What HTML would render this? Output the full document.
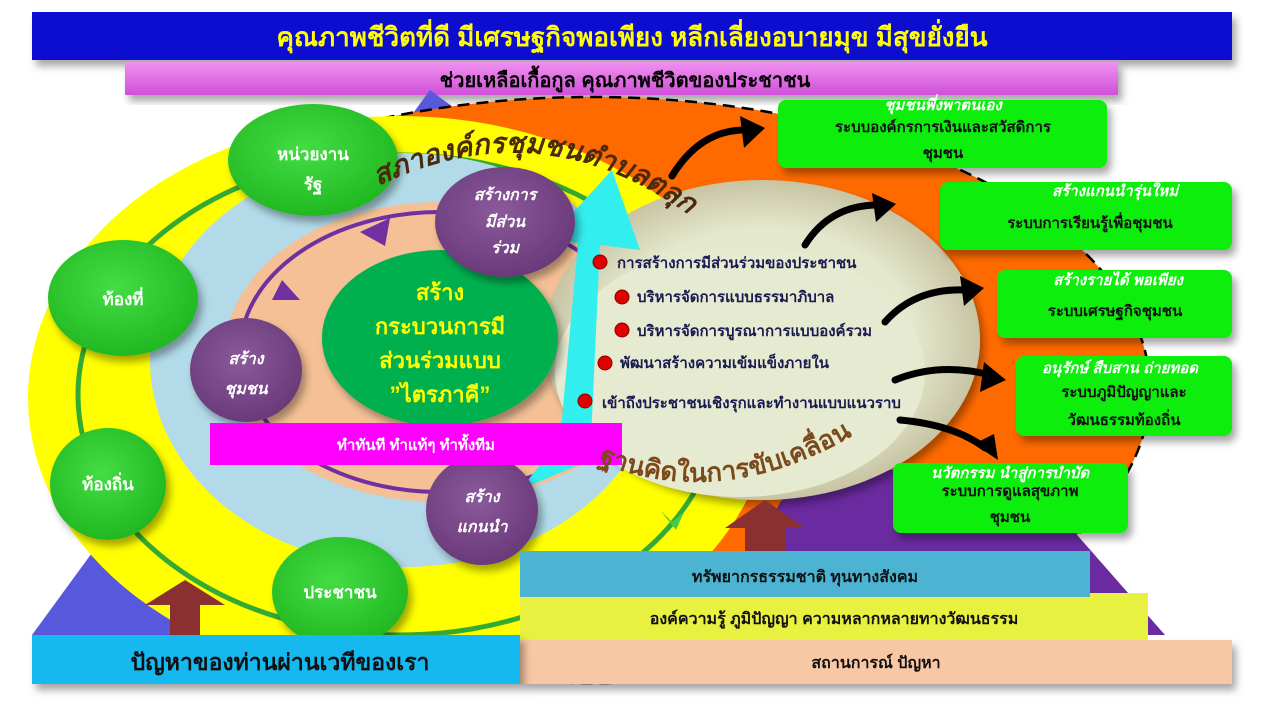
<!DOCTYPE html>
<html><head><meta charset="utf-8"><style>
html,body{margin:0;padding:0;background:#fff;width:1280px;height:720px;overflow:hidden}
svg{display:block}
text{font-family:"Liberation Sans","Noto Sans CJK SC",sans-serif;font-weight:bold}
</style></head><body>
<svg width="1280" height="720" viewBox="0 0 1280 720" xmlns="http://www.w3.org/2000/svg">
<defs>
<linearGradient id="pink" x1="0" y1="0" x2="0" y2="1"><stop offset="0" stop-color="#f090f0"/><stop offset="1" stop-color="#d050d8"/></linearGradient>
<radialGradient id="gc" cx="0.45" cy="0.4" r="0.6"><stop offset="0" stop-color="#44dd44"/><stop offset="1" stop-color="#22b822"/></radialGradient>
<radialGradient id="pc" cx="0.45" cy="0.4" r="0.6"><stop offset="0" stop-color="#8a5a9a"/><stop offset="1" stop-color="#6a3a7a"/></radialGradient>
<radialGradient id="cr" cx="0.5" cy="0.5" r="0.5"><stop offset="0.7" stop-color="#e4e8cc"/><stop offset="1" stop-color="#c8c4a4"/></radialGradient>
<filter id="sh" x="-20%" y="-20%" width="140%" height="150%"><feDropShadow dx="4" dy="6" stdDeviation="4" flood-color="#000" flood-opacity="0.35"/></filter>
<path id="arcTop" d="M378,186 Q570,92 745,262"/>
<path id="arcBot" d="M598,462 Q740,520 895,408"/>
</defs>

<rect x="32" y="12" width="1200" height="48" fill="#0a0ad0" filter="url(#sh)"/>
<text x="632" y="46" font-size="26" fill="#ffff00" text-anchor="middle">คุณภาพชีวิตที่ดี มีเศรษฐกิจพอเพียง หลีกเลี่ยงอบายมุข มีสุขยั่งยืน</text>
<rect x="125" y="62" width="993" height="33" fill="url(#pink)" filter="url(#sh)"/>
<text x="625" y="87" font-size="20" fill="#000" text-anchor="middle">ช่วยเหลือเกื้อกูล  คุณภาพชีวิตของประชาชน</text>

<polygon points="430,90 1165,635 32,635" fill="#5858dc"/>
<ellipse cx="592" cy="390" rx="558" ry="293" fill="#ff6a00" stroke="#000" stroke-width="2.5" stroke-dasharray="12,7"/>
<path d="M800,470 L1020,470 L1165,635 L700,635 Z" fill="#6a2aa0"/>
<ellipse cx="400" cy="398" rx="372" ry="282" fill="#ffff00"/>
<ellipse cx="400" cy="395" rx="322" ry="240" fill="none" stroke="#33aa33" stroke-width="5"/>
<ellipse cx="405" cy="360" rx="255" ry="207" fill="#b2dae8"/>
<ellipse cx="440" cy="352" rx="215" ry="150" fill="#f5c095"/>
<ellipse cx="440" cy="352" rx="200" ry="140" fill="none" stroke="#7030a0" stroke-width="4"/>
<polygon points="360,232 390,218 385,246" fill="#7030a0"/>
<polygon points="282,280 300,300 272,300" fill="#7030a0"/>

<ellipse cx="762" cy="340" rx="218" ry="160" fill="url(#cr)" filter="url(#sh)"/>
<ellipse cx="740" cy="372" rx="185" ry="125" fill="#e6ead0"/>

<polygon points="520,490 590,460 600,245 640,250 612,170 548,240 578,243 560,440" fill="#33eeee"/>

<ellipse cx="440" cy="338" rx="118" ry="88" fill="#00b050" filter="url(#sh)"/>
<text font-size="22" fill="#ffff00" text-anchor="middle"><tspan x="440" y="300">สร้าง</tspan><tspan x="440" y="334">กระบวนการมี</tspan><tspan x="440" y="368">ส่วนร่วมแบบ</tspan><tspan x="440" y="402">”ไตรภาคี”</tspan></text>

<ellipse cx="505" cy="222" rx="70" ry="55" fill="url(#pc)" filter="url(#sh)"/>
<text font-size="16" fill="#fff" text-anchor="middle" font-style="italic"><tspan x="505" y="200">สร้างการ</tspan><tspan x="505" y="227">มีส่วน</tspan><tspan x="505" y="253">ร่วม</tspan></text>
<ellipse cx="246" cy="370" rx="56" ry="52" fill="url(#pc)" filter="url(#sh)"/>
<text font-size="16" fill="#fff" text-anchor="middle" font-style="italic"><tspan x="246" y="364">สร้าง</tspan><tspan x="246" y="394">ชุมชน</tspan></text>
<ellipse cx="482" cy="510" rx="56" ry="55" fill="url(#pc)" filter="url(#sh)"/>
<text font-size="16" fill="#fff" text-anchor="middle" font-style="italic"><tspan x="482" y="502">สร้าง</tspan><tspan x="482" y="532">แกนนำ</tspan></text>

<rect x="210" y="423" width="412" height="42" fill="#ff00ff"/>
<text x="416" y="450" font-size="15" fill="#fff" text-anchor="middle">ทำทันที ทำแท้ๆ ทำทั้งทีม</text>

<ellipse cx="313" cy="160" rx="85" ry="56" fill="url(#gc)" filter="url(#sh)"/>
<text font-size="17" fill="#fff" text-anchor="middle"><tspan x="313" y="160">หน่วยงาน</tspan><tspan x="313" y="190">รัฐ</tspan></text>
<ellipse cx="123" cy="298" rx="75" ry="58" fill="url(#gc)" filter="url(#sh)"/>
<text x="123" y="305" font-size="17" fill="#fff" text-anchor="middle">ท้องที่</text>
<ellipse cx="108" cy="484" rx="58" ry="56" fill="url(#gc)" filter="url(#sh)"/>
<text x="108" y="490" font-size="17" fill="#fff" text-anchor="middle">ท้องถิ่น</text>
<ellipse cx="340" cy="592" rx="68" ry="55" fill="url(#gc)" filter="url(#sh)"/>
<text x="340" y="598" font-size="17" fill="#fff" text-anchor="middle">ประชาชน</text>

<text font-size="28" fill="#4a2a0a" font-style="italic"><textPath href="#arcTop">สภาองค์กรชุมชนตำบลตลุก</textPath></text>
<text font-size="26" fill="#7a4a1a"><textPath href="#arcBot">ฐานคิดในการขับเคลื่อน</textPath></text>

<g fill="#e00000" stroke="#800" stroke-width="1">
<circle cx="600" cy="262" r="7"/><circle cx="622" cy="297" r="7"/><circle cx="622" cy="330" r="7"/><circle cx="605" cy="363" r="7"/><circle cx="585" cy="401" r="7"/>
</g>
<g font-size="15" fill="#1a1a50">
<text x="617" y="268">การสร้างการมีส่วนร่วมของประชาชน</text>
<text x="637" y="302">บริหารจัดการแบบธรรมาภิบาล</text>
<text x="637" y="336">บริหารจัดการบูรณาการแบบองค์รวม</text>
<text x="620" y="368">พัฒนาสร้างความเข้มแข็งภายใน</text>
<text x="602" y="408">เข้าถึงประชาชนเชิงรุกและทำงานแบบแนวราบ</text>
</g>

<g fill="none" stroke="#000" stroke-width="7" stroke-linecap="round">
<path d="M672,176 Q700,130 745,130"/>
<path d="M805,245 Q830,205 878,205"/>
<path d="M885,322 Q915,288 965,290"/>
<path d="M895,380 Q940,362 990,375"/>
<path d="M900,420 Q955,425 985,448"/>
</g>
<g fill="#000">
<polygon points="740,116 765,128 744,148"/>
<polygon points="872,193 896,204 876,222"/>
<polygon points="960,276 984,288 964,306"/>
<polygon points="984,362 1006,380 980,392"/>
<polygon points="974,444 998,460 994,434"/>
</g>

<g fill="#11ee11" filter="url(#sh)">
<rect x="778" y="100" width="329" height="68" rx="8"/>
<rect x="940" y="182" width="292" height="68" rx="8"/>
<rect x="997" y="270" width="235" height="68" rx="8"/>
<rect x="1016" y="356" width="216" height="80" rx="8"/>
<rect x="893" y="463" width="235" height="70" rx="8"/>
</g>
<g font-size="15" fill="#fff" font-style="italic" text-anchor="middle">
<text x="943" y="110" font-weight="normal">ชุมชนพึ่งพาตนเอง</text>
<text x="1115" y="196" font-weight="normal">สร้างแกนนำรุ่นใหม่</text>
<text x="1118" y="285" font-weight="normal">สร้างรายได้  พอเพียง</text>
<text x="1120" y="373" font-weight="normal">อนุรักษ์  สืบสาน  ถ่ายทอด</text>
<text x="1010" y="478" font-weight="normal">นวัตกรรม นำสู่การบำบัด</text>
</g>
<g font-size="15" fill="#111" text-anchor="middle">
<text x="943" y="132">ระบบองค์กรการเงินและสวัสดิการ</text>
<text x="943" y="158">ชุมชน</text>
<text x="1090" y="228">ระบบการเรียนรู้เพื่อชุมชน</text>
<text x="1115" y="316">ระบบเศรษฐกิจชุมชน</text>
<text x="1124" y="397">ระบบภูมิปัญญาและ</text>
<text x="1124" y="425">วัฒนธรรมท้องถิ่น</text>
<text x="1010" y="496">ระบบการดูแลสุขภาพ</text>
<text x="1010" y="522">ชุมชน</text>
</g>

<polygon points="170,635 170,605 145,605 185,580 225,605 200,605 200,635" fill="#8b3030"/>
<polygon points="745,555 745,528 725,528 765,500 805,528 785,528 785,555" fill="#8b3030"/>
<polygon points="660,510 672,522 684,512 676,530" fill="#44cc44"/>

<rect x="520" y="640" width="712" height="44" fill="#f8c8a4" filter="url(#sh)"/>
<text x="876" y="668" font-size="16" fill="#111" text-anchor="middle">สถานการณ์ ปัญหา</text>
<rect x="520" y="593" width="628" height="47" fill="#e8f040"/>
<text x="834" y="624" font-size="16" fill="#111" text-anchor="middle">องค์ความรู้  ภูมิปัญญา  ความหลากหลายทางวัฒนธรรม</text>
<rect x="520" y="551" width="570" height="46" fill="#4cb4d2"/>
<text x="805" y="582" font-size="16" fill="#111" text-anchor="middle">ทรัพยากรธรรมชาติ ทุนทางสังคม</text>
<rect x="32" y="635" width="488" height="49" fill="#18b8f0" filter="url(#sh)"/>
<text x="280" y="670" font-size="23" fill="#111" text-anchor="middle">ปัญหาของท่านผ่านเวทีของเรา</text>
</svg>
</body></html>
